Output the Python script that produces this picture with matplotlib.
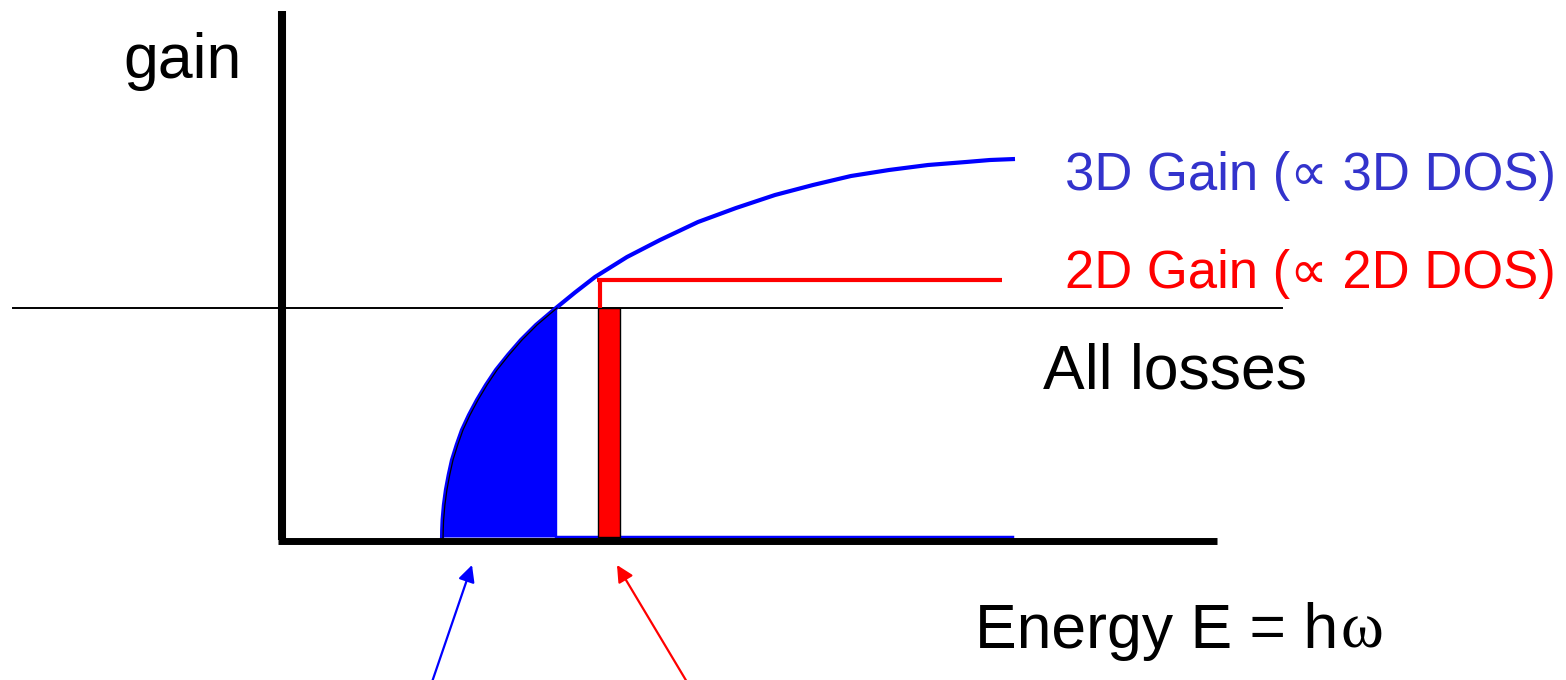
import numpy as np
import matplotlib.pyplot as plt

# energy axis in arbitrary units, gain in arbitrary units
band_edge = 1.60
gain_3d_E = [1.600, 1.602, 1.606, 1.619, 1.639, 1.667, 1.700, 1.747, 1.800,
             1.870, 1.950, 2.040, 2.140, 2.260, 2.390, 2.540, 2.740, 2.930,
             3.130, 3.450, 3.780, 4.160, 4.540, 4.930, 5.310, 5.690, 6.070,
             6.460, 6.840, 7.080, 7.330]
gain_3d_g = [0.00, 0.10, 0.20, 0.35, 0.50, 0.65, 0.80, 0.95, 1.10,
             1.25, 1.40, 1.55, 1.70, 1.85, 2.00, 2.15, 2.32, 2.475,
             2.63, 2.83, 3.00, 3.18, 3.32, 3.45, 3.55, 3.64, 3.70,
             3.75, 3.78, 3.80, 3.81]
loss_level = 2.32
gain_2d_level = 2.60
gain_2d_start = 3.15
gain_2d_end = 7.20
lasing_2d = [3.16, 3.38]   # narrow 2D lasing band (E range)

BLUE = '#0000ff'
RED = '#ff0000'
TXT_BLUE = '#3333cc'

fig = plt.figure(figsize=(15.66, 6.8), dpi=100)
ax = fig.add_axes([0, 0, 1, 1])
ax.set_xlim(-2.82, 12.84)
ax.set_ylim(-1.40, 5.40)
ax.axis('off')

E = np.array(gain_3d_E)
g = np.array(gain_3d_g)

# part of the 3D gain above the losses
cut = int(np.argmax(g >= loss_level)) + 1
ax.fill_between(E[:cut], 0.03, g[:cut], color=BLUE, lw=0, zorder=2)
ax.plot([E[cut - 1], E[cut - 1]], [0.03, loss_level], color=BLUE, lw=1, zorder=2)
ax.plot([E[cut - 1], gain_3d_E[-1] - 0.03], [0.03, 0.03], color=BLUE, lw=2.5, zorder=3)

# 3D gain curve
ax.plot(E, g, color=BLUE, lw=3, solid_capstyle='butt', solid_joinstyle='round', zorder=4)
ax.plot(E[:cut] + 0.01, g[:cut], color='black', lw=0.9, zorder=5)

# 2D gain step and its lasing bar
ax.plot([gain_2d_start, gain_2d_end], [gain_2d_level, gain_2d_level],
        color=RED, lw=3, solid_capstyle='butt', zorder=4)
ax.plot([lasing_2d[0] + 0.02, lasing_2d[0] + 0.02], [loss_level, gain_2d_level],
        color=RED, lw=3, solid_capstyle='butt', zorder=4)
ax.bar(lasing_2d[0], loss_level - 0.03, width=lasing_2d[1] - lasing_2d[0],
       bottom=0.03, align='edge', color=RED, edgecolor='black', lw=1, zorder=3)

# loss line
ax.plot([-2.69, 10.0], [loss_level, loss_level], color='black', lw=1.4, zorder=1)

# axes
ax.plot([0, 0], [0.0, 5.29], color='black', lw=5.8, solid_capstyle='butt', zorder=6)
ax.plot([-0.04, 9.35], [-0.005, -0.005], color='black', lw=5, solid_capstyle='butt', zorder=6)

# arrows from below
ax.annotate('', xy=(1.90, -0.25), xytext=(1.50, -1.42),
            arrowprops=dict(arrowstyle='-|>', color=BLUE, lw=1.6, mutation_scale=25,
                            shrinkA=0, shrinkB=0))
ax.annotate('', xy=(3.35, -0.25), xytext=(4.05, -1.42),
            arrowprops=dict(arrowstyle='-|>', color=RED, lw=1.6, mutation_scale=25,
                            shrinkA=0, shrinkB=0))

fam = ['Liberation Sans', 'DejaVu Sans']


def fit_width(t, width):
    # shrink a text so that it spans the given width in data units
    fig.canvas.draw()
    bb = t.get_window_extent().transformed(ax.transData.inverted())
    t.set_fontsize(t.get_fontsize() * width / bb.width)


ax.text(-1.59, 4.62, 'gain', fontsize=45, family=fam, va='baseline')
t3 = ax.text(7.83, 3.50, '3D Gain (\u221d 3D DOS)', fontsize=40, family=fam,
             color=TXT_BLUE, va='baseline')
t2 = ax.text(7.83, 2.52, '2D Gain (\u221d 2D DOS)', fontsize=40, family=fam,
             color=RED, va='baseline')
fit_width(t3, 4.90)
fit_width(t2, 4.90)
ax.text(7.61, 1.52, 'All losses', fontsize=45, family=fam, va='baseline')
t = ax.text(6.93, -1.08, 'Energy E = h', fontsize=45, family=fam, va='baseline')
fig.canvas.draw()
bb = t.get_window_extent().transformed(ax.transData.inverted())
ax.text(bb.x1 + 0.02, -1.08, '\u03c9', fontsize=47, family=['Liberation Serif'],
        va='baseline')

fig.savefig('out.png', dpi=100)
